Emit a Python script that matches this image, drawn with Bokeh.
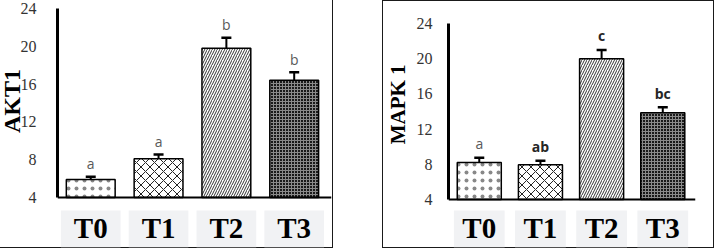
from bokeh.plotting import figure
from bokeh.layouts import row
from bokeh.models import (ColumnDataSource, Range1d, FixedTicker, Span, Whisker,
                          TeeHead, Spacer, InlineStyleSheet)
from bokeh.core.properties import value
from bokeh.embed import file_html
from bokeh.resources import INLINE

# ---------------- data ----------------
categories = ["T0", "T1", "T2", "T3"]
y_ticks = [4, 8, 12, 16, 20, 24]

akt1_mean = [5.9, 8.1, 19.8, 16.4]
akt1_err = [0.3, 0.45, 1.1, 0.85]
akt1_letters = ["a", "a", "b", "b"]

mapk1_mean = [8.2, 7.95, 20.0, 13.85]
mapk1_err = [0.55, 0.45, 1.0, 0.65]
mapk1_letters = ["a", "ab", "c", "bc"]

# ---------------- styles ----------------
SERIF = "Liberation Serif"
NBSP = "\u00a0"
patterns = [
    dict(fill_color="white", hatch_pattern="dot", hatch_color="#888888", hatch_scale=8, hatch_weight=0.6),
    dict(fill_color="white", hatch_pattern="diagonal_cross", hatch_color="#222222", hatch_scale=9, hatch_weight=1),
    dict(fill_color="white", hatch_pattern="right_diagonal_line", hatch_color="#333333", hatch_scale=5, hatch_weight=1),
    dict(fill_color="#1a1a1a", hatch_pattern="cross", hatch_color="#8a8a8a", hatch_scale=3, hatch_weight=1),
]


def make_panel(title, means, errs, letters, letter_styles, *, width, height,
               x_range, y_range, borders, ylab_size, ylab_standoff, ylab_lift, tick_standoff,
               tick_size, box_top, box_width, label_y, letter_offset, css):
    p = figure(width=width, height=height, x_range=Range1d(*x_range), y_range=Range1d(*y_range),
               output_backend="svg", toolbar_location=None, title_location=None,
               min_border_left=borders[0], min_border_right=borders[1],
               min_border_top=borders[2], min_border_bottom=borders[3],
               border_fill_color=None, background_fill_color=None,
               outline_line_color=None)
    p.stylesheets = [InlineStyleSheet(css=css)]
    p.xaxis.visible = False
    p.grid.visible = False

    xs = list(range(len(categories)))

    # category label boxes
    p.vbar(x=xs, top=box_top, bottom=y_range[0], width=box_width,
           fill_color="#f1f2f4", line_color=None)
    p.text(x=xs, y=[label_y] * len(xs), text=categories, text_align="center",
           text_baseline="middle", text_font=value(SERIF), text_font_size="29px",
           text_font_style="bold", text_color="black")

    # bars
    for i, x in enumerate(xs):
        p.vbar(x=[x], top=[means[i]], bottom=4, width=0.72, line_color="black",
               line_width=1.5, **patterns[i])

    # error bars
    src = ColumnDataSource(dict(x=xs, top=means,
                                upper=[m + e for m, e in zip(means, errs)]))
    p.add_layout(Whisker(source=src, base="x", upper="upper", lower="top",
                         dimension="height", line_color="black", line_width=2,
                         upper_head=TeeHead(size=10, line_width=2.5, line_color="black"),
                         lower_head=None))

    # significance letters
    lsrc = ColumnDataSource(dict(x=xs, y=[m + e for m, e in zip(means, errs)], t=letters,
                                 st=[s[0] for s in letter_styles],
                                 c=[s[1] for s in letter_styles]))
    p.text(x="x", y="y", text="t", source=lsrc, text_align="center",
           text_baseline="alphabetic", y_offset=letter_offset,
           text_font=value("Open Sans"), text_font_size="14px",
           text_font_style="st", text_color="c")

    # baseline
    p.add_layout(Span(location=4, dimension="width", line_color="black", line_width=2))

    # y axis
    ax = p.yaxis[0]
    ax.bounds = (4, 24)
    ax.ticker = FixedTicker(ticks=y_ticks)
    ax.axis_line_width = 3
    ax.axis_line_color = "black"
    ax.major_tick_line_color = None
    ax.minor_tick_line_color = None
    ax.major_label_standoff = tick_standoff
    ax.major_label_text_font = SERIF
    ax.major_label_text_font_size = tick_size
    ax.major_label_text_color = "#333333"
    # leading no-break spaces lift the title so that it is centred on the 4–24 axis
    ax.axis_label = NBSP * ylab_lift + title
    ax.axis_label_text_font = SERIF
    ax.axis_label_text_font_size = ylab_size
    ax.axis_label_text_font_style = "bold"
    ax.axis_label_text_color = "black"
    ax.axis_label_standoff = ylab_standoff
    return p


p1 = make_panel("AKT1", akt1_mean, akt1_err, akt1_letters,
                [("normal", "#595959")] * 4,
                width=341, height=248, x_range=(-0.49, 3.55), y_range=(-1.3, 24),
                borders=(65, 2, 8, 1), ylab_size="24px", ylab_standoff=-7, ylab_lift=9,
                tick_standoff=15, tick_size="16px", box_top=2.62, box_width=0.88,
                label_y=0.72, letter_offset=-13,
                css=":host { margin-left: -8px; box-shadow: inset -1px -1px 0 0 #1a1a1a; }")

p2 = make_panel("MAPK 1", mapk1_mean, mapk1_err, mapk1_letters,
                [("normal", "#595959"), ("bold", "#262626"), ("bold", "#262626"), ("bold", "#262626")],
                width=332, height=248, x_range=(-0.503, 3.535), y_range=(-1.44, 25.7),
                borders=(60, 19, 8, 1), ylab_size="21px", ylab_standoff=4, ylab_lift=9,
                tick_standoff=10, tick_size="16px", box_top=2.75, box_width=0.83,
                label_y=0.72, letter_offset=-14,
                css=":host { box-shadow: inset 0 0 0 1px #1a1a1a; }")

layout = row(p1, Spacer(width=49, height=248), p2)
open("out.html", "w").write(file_html(layout, INLINE))
